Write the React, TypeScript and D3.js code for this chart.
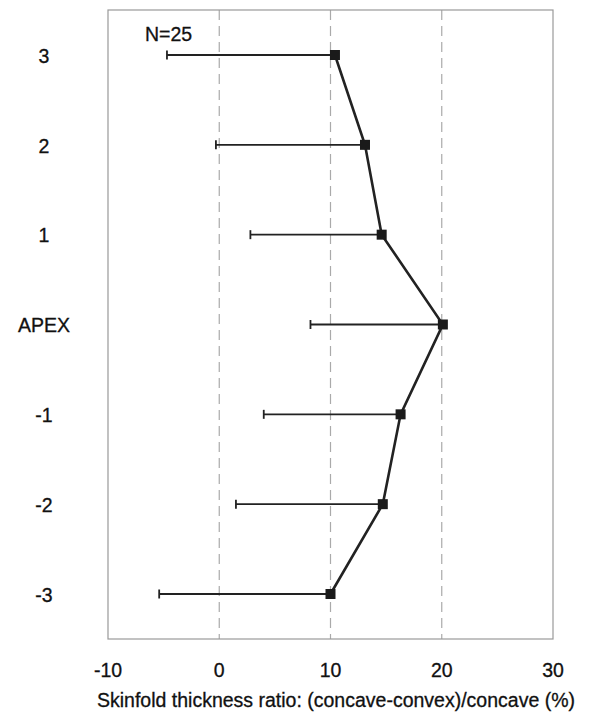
import { useRef, useEffect } from "react";
import * as d3 from "d3";

// levels from top to bottom
const levels = ["3", "2", "1", "APEX", "-1", "-2", "-3"];
const means = [10.4, 13.1, 14.6, 20.1, 16.3, 14.7, 10.0];
const lowerErr = [-4.7, -0.3, 2.8, 8.2, 4.0, 1.5, -5.4];
const xTicks = [-10, 0, 10, 20, 30];
const gridTicks = [0, 10, 20];

export default function App() {
    const svgRef = useRef<SVGSVGElement | null>(null);

    useEffect(() => {
        if (!svgRef.current) return;
        const svg = d3.select(svgRef.current);
        svg.selectAll("*").remove();

        const font = "'Liberation Sans', Arial, sans-serif";
        const left = 108, right = 553, top = 10, bottom = 639;

        const x = d3.scaleLinear().domain([-10, 30]).range([left, right]);
        const y = d3.scalePoint().domain(levels).range([55, 594]);

        const rows = levels.map((l, i) => ({ level: l, mean: means[i], lo: lowerErr[i] }));

        // dashed vertical grid
        svg.append("g")
            .selectAll("line")
            .data(gridTicks)
            .enter()
            .append("line")
            .attr("x1", d => x(d))
            .attr("x2", d => x(d))
            .attr("y1", top)
            .attr("y2", bottom)
            .attr("stroke", "#aaa")
            .attr("stroke-width", 1.2)
            .attr("stroke-dasharray", "10,6");

        // frame
        svg.append("rect")
            .attr("x", left)
            .attr("y", top)
            .attr("width", right - left)
            .attr("height", bottom - top)
            .attr("fill", "none")
            .attr("stroke", "#999")
            .attr("stroke-width", 1.2);

        // error bars (left side only)
        const eb = svg.append("g").attr("stroke", "#222").attr("stroke-width", 1.8);
        eb.selectAll("line.bar")
            .data(rows)
            .enter()
            .append("line")
            .attr("class", "bar")
            .attr("x1", d => x(d.lo))
            .attr("x2", d => x(d.mean))
            .attr("y1", d => y(d.level)!)
            .attr("y2", d => y(d.level)!);
        eb.selectAll("line.cap")
            .data(rows)
            .enter()
            .append("line")
            .attr("class", "cap")
            .attr("x1", d => x(d.lo))
            .attr("x2", d => x(d.lo))
            .attr("y1", d => y(d.level)! - 4.5)
            .attr("y2", d => y(d.level)! + 4.5);

        // connecting line
        const line = d3.line<typeof rows[0]>()
            .x(d => x(d.mean))
            .y(d => y(d.level)!);
        svg.append("path")
            .datum(rows)
            .attr("d", line)
            .attr("fill", "none")
            .attr("stroke", "#222")
            .attr("stroke-width", 2.6);

        // square markers
        svg.append("g")
            .selectAll("rect")
            .data(rows)
            .enter()
            .append("rect")
            .attr("x", d => x(d.mean) - 5)
            .attr("y", d => y(d.level)! - 5)
            .attr("width", 10)
            .attr("height", 10)
            .attr("fill", "#1a1a1a");

        const txt = (sel: d3.Selection<SVGTextElement, any, any, any>) =>
            sel.attr("font-family", font)
                .attr("fill", "#111")
                .attr("stroke", "#111")
                .attr("stroke-width", 0.3);

        // y labels
        svg.append("g")
            .selectAll("text")
            .data(levels)
            .enter()
            .append("text")
            .attr("x", 44)
            .attr("y", d => y(d)!)
            .attr("dy", "0.4em")
            .attr("text-anchor", "middle")
            .attr("font-size", 19.5)
            .call(txt)
            .text(d => d);

        // x tick labels
        svg.append("g")
            .selectAll("text")
            .data(xTicks)
            .enter()
            .append("text")
            .attr("x", d => x(d))
            .attr("y", 677)
            .attr("text-anchor", "middle")
            .attr("font-size", 19.5)
            .call(txt)
            .text(d => d);

        // x title
        svg.append("text")
            .attr("x", 336)
            .attr("y", 707)
            .attr("text-anchor", "middle")
            .attr("font-size", 19.5)
            .call(txt)
            .text("Skinfold thickness ratio: (concave-convex)/concave (%)");

        // sample size
        svg.append("text")
            .attr("x", 145)
            .attr("y", 41)
            .attr("font-size", 19.5)
            .call(txt)
            .text("N=25");
    }, []);

    return (
        <svg
            ref={svgRef}
            width={596}
            height={715}
            style={{ position: "absolute", left: 0, top: 0, background: "#fff" }}
        />
    );
}
